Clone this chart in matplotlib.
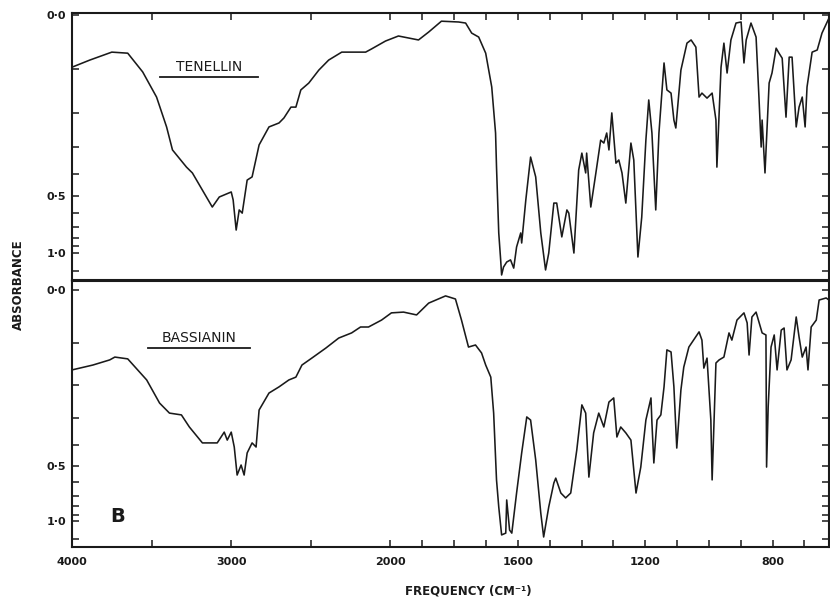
#!/usr/bin/env python3
"""
IR spectra of tenellin and bassianin (panel B), chart-recorder style:
linear transmittance trace labelled in absorbance, with the usual
2:1 scale change of the wavenumber axis at 2000 cm-1.
"""

import numpy as np
import matplotlib
matplotlib.use("Agg")
import matplotlib.pyplot as plt
from matplotlib.lines import Line2D

# ─── traced spectra: wavenumber (cm-1) and transmittance (%) ──────────────────
TEN_NU = [4000, 3888, 3750, 3650, 3556, 3469, 3406, 3369, 3281, 3244,
          3119, 3075, 3000, 2988, 2969, 2950, 2931, 2900, 2869, 2825,
          2763, 2700, 2669, 2625, 2594, 2563, 2513, 2450, 2388, 2306,
          2156, 2119, 2031, 1975, 1912, 1880, 1840, 1786, 1764, 1745,
          1723, 1701, 1682, 1670, 1667, 1660, 1654, 1651, 1645, 1635,
          1623, 1613, 1604, 1591, 1588, 1575, 1560, 1544, 1528, 1513,
          1503, 1487, 1478, 1462, 1446, 1440, 1424, 1409, 1399, 1387,
          1384, 1371, 1355, 1340, 1330, 1321, 1314, 1305, 1292, 1283,
          1273, 1261, 1245, 1236, 1223, 1211, 1198, 1189, 1179, 1167,
          1157, 1141, 1132, 1119, 1110, 1104, 1088, 1079, 1069, 1056,
          1041, 1031, 1022, 1006, 990, 978, 975, 962, 953, 943,
          931, 915, 899, 890, 883, 868, 852, 843, 836, 833,
          824, 811, 802, 789, 780, 770, 758, 748, 739, 726,
          717, 707, 698, 692, 676, 660, 645, 623]
TEN_T = [80.3, 83.0, 86.0, 85.6, 78.5, 69.0, 57.7, 49.0, 42.5, 40.3,
         27.4, 31.2, 33.1, 30.1, 18.7, 26.3, 25.1, 37.6, 38.8, 50.9,
         57.7, 59.2, 61.1, 65.2, 65.2, 71.7, 74.3, 79.2, 83.0, 86.0,
         86.0, 87.2, 90.2, 92.1, 90.6, 93.6, 97.7, 97.4, 97.0, 93.2,
         91.7, 85.6, 72.8, 55.4, 42.5, 17.6, 7.4, 1.7, 4.7, 6.6,
         7.4, 4.3, 12.3, 17.6, 13.8, 30.1, 46.3, 38.8, 17.6, 3.6,
         10.0, 28.9, 28.9, 16.1, 26.3, 25.1, 10.0, 41.4, 47.8, 40.3,
         47.8, 27.4, 40.3, 52.7, 51.6, 55.4, 49.0, 63.0, 44.0, 45.2,
         40.3, 28.9, 51.6, 45.2, 8.5, 23.6, 52.7, 67.9, 55.4, 26.3,
         55.4, 81.9, 71.7, 70.5, 60.3, 57.3, 79.2, 84.1, 89.4, 90.6,
         87.9, 69.0, 70.5, 68.6, 70.5, 60.3, 42.5, 80.3, 89.4, 78.1,
         90.6, 97.0, 97.4, 81.9, 90.6, 97.0, 91.7, 69.0, 50.1, 60.3,
         40.3, 74.3, 78.1, 87.5, 85.6, 83.7, 61.4, 84.1, 84.1, 57.7,
         65.2, 69.0, 57.7, 72.8, 86.0, 86.8, 93.2, 98.9]

BAS_NU = [4000, 3869, 3763, 3731, 3650, 3531, 3450, 3388, 3313, 3263,
          3181, 3088, 3044, 3025, 3000, 2981, 2963, 2938, 2919, 2900,
          2869, 2844, 2825, 2763, 2700, 2638, 2594, 2556, 2494, 2406,
          2325, 2244, 2188, 2138, 2056, 1997, 1959, 1918, 1880, 1827,
          1796, 1777, 1755, 1733, 1714, 1701, 1685, 1676, 1667, 1660,
          1651, 1638, 1635, 1626, 1619, 1604, 1588, 1572, 1560, 1544,
          1528, 1519, 1503, 1487, 1481, 1465, 1450, 1434, 1415, 1399,
          1387, 1377, 1362, 1346, 1330, 1314, 1299, 1289, 1277, 1261,
          1245, 1229, 1214, 1198, 1182, 1179, 1173, 1163, 1151, 1141,
          1132, 1119, 1110, 1101, 1088, 1079, 1063, 1031, 1022, 1016,
          1006, 994, 990, 978, 968, 953, 937, 928, 912, 890,
          880, 874, 865, 852, 833, 821, 819, 814, 805, 795,
          786, 773, 764, 755, 742, 726, 717, 707, 695, 689,
          679, 663, 654, 632, 623]
BAS_T = [68.9, 70.8, 72.8, 73.9, 73.2, 65.0, 56.0, 52.1, 51.4, 46.7,
         40.5, 40.5, 44.7, 41.6, 44.7, 38.9, 28.0, 31.9, 28.0, 36.6,
         40.5, 38.9, 53.3, 59.9, 62.3, 65.0, 66.1, 70.8, 73.5, 77.4,
         81.3, 83.3, 85.6, 85.6, 88.3, 91.1, 91.4, 90.3, 94.9, 97.7,
         96.5, 88.3, 77.8, 78.6, 75.5, 70.8, 66.1, 52.1, 26.1, 15.6,
         4.7, 5.4, 18.3, 6.6, 5.4, 21.0, 36.6, 50.6, 49.4, 33.9,
         13.2, 3.9, 15.6, 24.9, 26.8, 21.0, 19.1, 21.0, 37.7, 55.3,
         52.1, 27.2, 44.4, 52.1, 46.7, 56.4, 58.0, 42.8, 46.7, 44.4,
         41.6, 21.0, 31.1, 49.4, 58.0, 48.2, 32.7, 49.4, 51.4, 62.3,
         76.7, 75.9, 62.3, 38.5, 61.1, 70.0, 77.8, 83.7, 80.5, 69.6,
         73.5, 49.4, 26.1, 71.6, 72.8, 73.9, 83.3, 80.5, 88.3, 91.1,
         87.2, 74.7, 89.5, 91.4, 83.3, 82.5, 31.1, 54.5, 77.8, 82.5,
         68.9, 84.4, 85.2, 68.9, 72.8, 89.5, 81.7, 73.9, 77.8, 68.9,
         85.6, 88.3, 96.1, 96.9, 96.1]

# ─── axes ─────────────────────────────────────────────────────────────────────
FREQ_TICKS = [4000, 3500, 3000, 2500, 2000, 1900, 1800, 1700, 1600, 1500,
              1400, 1300, 1200, 1100, 1000, 900, 800, 700]
FREQ_LABELED = [4000, 3000, 2000, 1600, 1200, 800]
ABS_TICKS = [0.0, 0.1, 0.2, 0.3, 0.4, 0.5, 0.6, 0.7, 0.8, 0.9, 1.0, 1.5]
ABS_LABELED = [0.0, 0.5, 1.0]

FONT = "DejaVu Sans"
INK = "#1a1a1a"
W, H = 830, 603


def fwd(nu):
    # half scale above 2000 cm-1
    nu = np.asarray(nu, dtype=float)
    return np.where(nu <= 2000, nu, 2000 + (nu - 2000) / 2)


def inv(u):
    u = np.asarray(u, dtype=float)
    return np.where(u <= 2000, u, 2000 + (u - 2000) * 2)


def px(x, y):
    """pixel position -> figure fraction"""
    return x / W, 1 - y / H


def style(ax, ylim, xticks_top):
    ax.set_xscale("function", functions=(fwd, inv))
    ax.set_xlim(4000, 623)
    ax.set_ylim(*ylim)

    ax.set_xticks(FREQ_TICKS)
    ax.set_xticklabels([str(f) if f in FREQ_LABELED else "" for f in FREQ_TICKS])
    ax.xaxis.set_minor_locator(matplotlib.ticker.NullLocator())
    ax.tick_params(axis="x", direction="in", length=5, width=1.1, color=INK,
                   top=xticks_top, bottom=not xticks_top,
                   labeltop=False, labelbottom=not xticks_top,
                   labelsize=8, pad=7, labelcolor=INK)

    t_pos = [100 * 10 ** (-a) for a in ABS_TICKS]
    ax.set_yticks(t_pos)
    ax.set_yticklabels([f"{a:.1f}".replace(".", "\u00b7") if a in ABS_LABELED else ""
                        for a in ABS_TICKS])
    ax.yaxis.set_minor_locator(matplotlib.ticker.NullLocator())
    ax.tick_params(axis="y", direction="in", length=5, width=1.1, color=INK,
                   left=True, right=True, labelsize=8, pad=4, labelcolor=INK)

    for lab in ax.get_xticklabels() + ax.get_yticklabels():
        lab.set_fontweight("bold")
        lab.set_family(FONT)
    for s in ax.spines.values():
        s.set_linewidth(1.5)
        s.set_color(INK)


def name_label(fig, text, x0, x1, y_text, y_line):
    fig.text(*px((x0 + x1) / 2, y_text), text, ha="center", va="center",
             fontsize=10, family=FONT, color=INK)
    fig.add_artist(Line2D([x0 / W, x1 / W], [1 - y_line / H] * 2,
                          transform=fig.transFigure, color=INK, lw=1.3))


def make_figure(out):
    fig = plt.figure(figsize=(W / 100, H / 100), dpi=100, facecolor="white")

    ax_top = fig.add_axes([72 / W, 1 - 280 / H, 757 / W, 267 / H])
    ax_bot = fig.add_axes([72 / W, 1 - 547 / H, 757 / W, 266 / H])

    ax_top.plot(TEN_NU, TEN_T, color=INK, lw=1.15, solid_joinstyle="round")
    ax_bot.plot(BAS_NU, BAS_T, color=INK, lw=1.15, solid_joinstyle="round")

    style(ax_top, (-0.2, 100.8), xticks_top=True)
    style(ax_bot, (0.0, 103.5), xticks_top=False)

    name_label(fig, "TENELLIN", 160, 258, 67, 77)
    name_label(fig, "BASSIANIN", 148, 250, 338, 348)

    fig.text(*px(118, 517), "B", ha="center", va="center",
             fontsize=14, fontweight="bold", family=FONT, color=INK)
    fig.text(*px(18, 285), "ABSORBANCE", rotation=90, ha="center", va="center",
             fontsize=8.5, fontweight="bold", family=FONT, color=INK)
    fig.text(*px(468, 591), "FREQUENCY (CM\u207b\u00b9)", ha="center", va="center",
             fontsize=8.5, fontweight="bold", family=FONT, color=INK)

    fig.savefig(out, dpi=100, facecolor="white")


if __name__ == "__main__":
    make_figure("out.png")
